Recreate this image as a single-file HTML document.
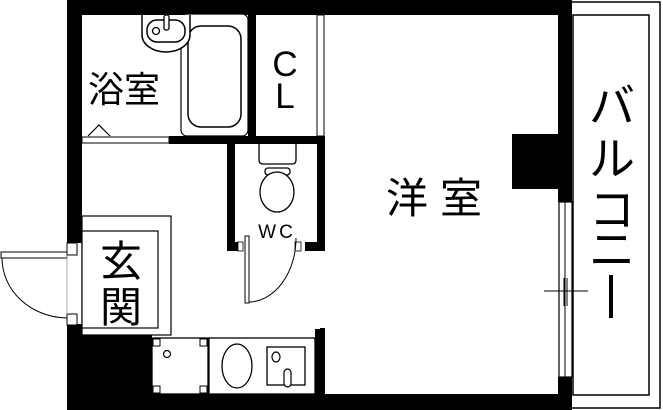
<!DOCTYPE html>
<html><head><meta charset="utf-8"><style>
html,body{margin:0;padding:0;background:#fff;}
svg{display:block;}
text{font-family:"Liberation Sans","Noto Sans CJK JP",sans-serif;fill:#000;}
</style></head><body>
<svg width="663" height="410" viewBox="0 0 663 410" xmlns="http://www.w3.org/2000/svg">
<rect width="663" height="410" fill="#fff"/>
<!-- balcony -->
<path d="M559 2 L660 2 L660 408 L559 408" fill="none" stroke="#000" stroke-width="1.5"/>
<rect x="573" y="15" width="76" height="380" fill="none" stroke="#000" stroke-width="1.5"/>
<g font-size="46">
<text x="589" y="122">バ</text>
<text x="589" y="175">ル</text>
<text x="589" y="226">コ</text>
<text x="589" y="266">ニ</text>
</g>
<rect x="609" y="275" width="4" height="43" fill="#000"/>
<!-- outer walls -->
<rect x="67" y="0" width="492" height="15" fill="#000"/>
<rect x="558" y="0" width="14" height="202" fill="#000"/>
<rect x="559" y="202" width="13" height="175" fill="#fff" stroke="#000" stroke-width="1.2"/>
<line x1="565" y1="202" x2="565" y2="377" stroke="#000" stroke-width="1"/>
<line x1="544" y1="291" x2="588" y2="291" stroke="#000" stroke-width="1"/>
<line x1="564" y1="278" x2="564" y2="306" stroke="#000" stroke-width="1"/>
<line x1="567" y1="278" x2="567" y2="306" stroke="#000" stroke-width="1"/>
<rect x="558" y="377" width="14" height="18" fill="#000"/>
<rect x="67" y="394" width="505" height="16" fill="#000"/>
<rect x="512" y="134" width="47" height="55" fill="#000"/>
<rect x="67" y="0" width="15" height="243" fill="#000"/>
<rect x="67" y="324" width="15" height="86" fill="#000"/>
<rect x="67" y="328" width="85" height="67" fill="#000"/>
<!-- entrance door -->
<rect x="1" y="252" width="66" height="6" fill="#fff" stroke="#000" stroke-width="1"/>
<path d="M2 258 A 66 60 0 0 0 67 318" fill="none" stroke="#000" stroke-width="1"/>
<rect x="67" y="243" width="10" height="12" fill="#fff" stroke="#000" stroke-width="1"/>
<rect x="67" y="314" width="10" height="11" fill="#fff" stroke="#000" stroke-width="1"/>
<line x1="67" y1="255" x2="67" y2="314" stroke="#999" stroke-width="0.8"/>
<!-- genkan -->
<rect x="82" y="216" width="89" height="119" fill="#fff" stroke="#000" stroke-width="1.2"/>
<rect x="82" y="231" width="76" height="97" fill="#fff" stroke="#000" stroke-width="1.2"/>
<text x="100" y="276" font-size="42">玄</text>
<text x="100" y="322" font-size="42">関</text>
<!-- bath -->
<rect x="248" y="15" width="8" height="122" fill="#000"/>
<rect x="169" y="136" width="156" height="8" fill="#000"/>
<rect x="82" y="137" width="87" height="6" fill="#fff" stroke="#000" stroke-width="1"/>
<path d="M88 136 L99 125 L110 136" fill="none" stroke="#000" stroke-width="1.2"/>
<rect x="181" y="14" width="67" height="122" rx="6" fill="#fff" stroke="#000" stroke-width="1.2"/>
<rect x="188" y="26" width="53" height="101" rx="13" fill="#fff" stroke="#000" stroke-width="1.5"/>
<path d="M142 15 L142 35 A24 17 0 0 0 190 35 L190 15" fill="#fff" stroke="#000" stroke-width="1.5"/>
<rect x="147" y="20" width="38" height="22" rx="10" fill="none" stroke="#000" stroke-width="1.5"/>
<circle cx="156" cy="31" r="3.5" fill="none" stroke="#000" stroke-width="1.3"/>
<rect x="164" y="15" width="5" height="15" rx="2" fill="#fff" stroke="#000" stroke-width="1.3"/>
<text x="88" y="102" font-size="36">浴室</text>
<!-- closet -->
<text x="285" y="76" font-size="35" text-anchor="middle">C</text>
<text x="285" y="108" font-size="35" text-anchor="middle">L</text>
<rect x="317" y="15" width="7" height="121" fill="#fff" stroke="#000" stroke-width="1"/>
<rect x="320" y="137" width="5" height="114" fill="#000"/>
<rect x="320" y="328" width="5" height="67" fill="#000"/>
<!-- WC -->
<rect x="227" y="144" width="8" height="107" fill="#000"/>
<rect x="317" y="144" width="8" height="107" fill="#000"/>
<rect x="227" y="242" width="16" height="9" fill="#000"/>
<rect x="305" y="242" width="20" height="9" fill="#000"/>
<rect x="238" y="242" width="5" height="9" fill="#fff" stroke="#000" stroke-width="0.8"/>
<rect x="295" y="242" width="6" height="9" fill="#fff" stroke="#000" stroke-width="0.8"/>
<rect x="245" y="236" width="4" height="67" fill="#fff" stroke="#000" stroke-width="1"/>
<path d="M249 302 A 48 64 0 0 0 296 238" fill="none" stroke="#000" stroke-width="1"/>
<path d="M259 144 L259 160 Q259 164 263 164 L292 164 Q296 164 296 160 L296 144" fill="#fff" stroke="#000" stroke-width="1.3"/>
<rect x="265" y="168" width="25" height="7" rx="3" fill="#fff" stroke="#000" stroke-width="1.3"/>
<ellipse cx="277" cy="192" rx="17" ry="20" fill="#fff" stroke="#000" stroke-width="1.3"/>
<text x="277" y="238" font-size="19" text-anchor="middle" letter-spacing="3">WC</text>
<!-- washer -->
<rect x="152" y="338" width="56" height="56" fill="#fff" stroke="#000" stroke-width="1.3"/>
<rect x="153" y="339" width="7" height="7" fill="#fff" stroke="#000" stroke-width="1"/>
<rect x="200" y="339" width="7" height="7" fill="#fff" stroke="#000" stroke-width="1"/>
<rect x="153" y="386" width="7" height="7" fill="#fff" stroke="#000" stroke-width="1"/>
<rect x="200" y="386" width="7" height="7" fill="#fff" stroke="#000" stroke-width="1"/>
<circle cx="167" cy="354" r="3.5" fill="none" stroke="#000" stroke-width="1.2"/>
<!-- vanity -->
<rect x="209" y="338" width="106" height="56" fill="#fff" stroke="#000" stroke-width="1.3"/>
<rect x="315" y="329" width="9" height="66" fill="#000"/>
<ellipse cx="237" cy="366" rx="15" ry="22" fill="none" stroke="#000" stroke-width="1.3"/>
<rect x="267" y="347" width="38" height="38" fill="none" stroke="#000" stroke-width="1.3"/>
<ellipse cx="276" cy="357" rx="4" ry="5" fill="none" stroke="#000" stroke-width="1.2"/>
<rect x="284" y="369" width="7" height="18" rx="3.5" fill="#fff" stroke="#000" stroke-width="1.2"/>
<!-- main room label -->
<text x="386" y="213" font-size="42" letter-spacing="12">洋室</text>
</svg>
</body></html>
